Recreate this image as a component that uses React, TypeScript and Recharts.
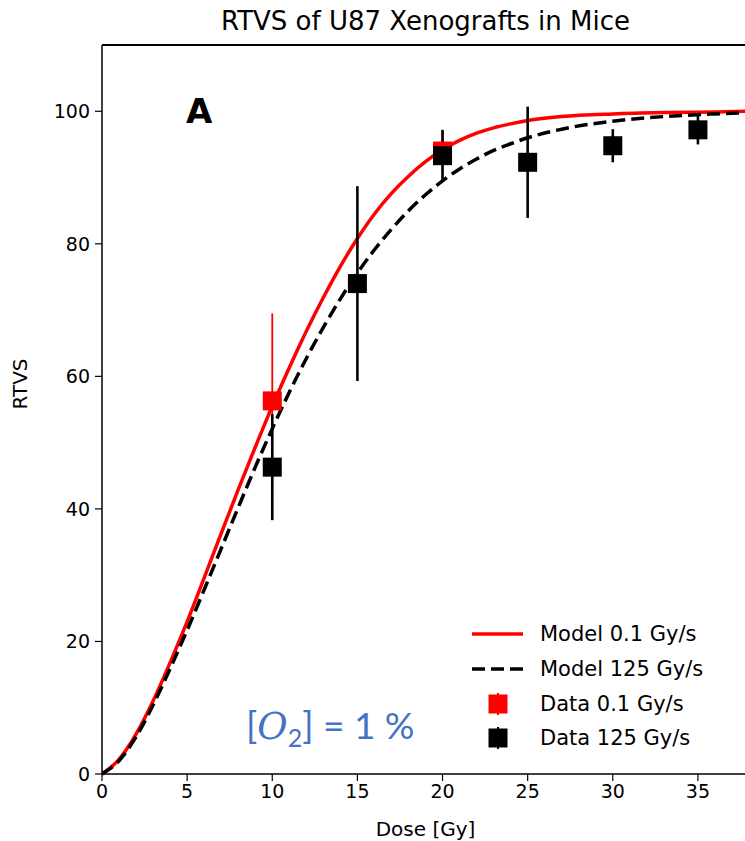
import { ComposedChart, Line, Scatter, ErrorBar, XAxis, YAxis, ReferenceLine } from 'recharts'

const modelDose = [0, 1, 2, 3, 4, 5, 6, 7, 8, 9, 10, 11, 12, 13, 14, 15, 16, 17, 18, 19, 20, 21, 22, 23, 24, 25, 27, 30, 33, 36, 38]
const modelConv = [0, 2.2, 6, 11, 16.8, 23, 29.6, 36.3, 42.9, 49.3, 55.5, 61.3, 66.8, 71.9, 76.6, 80.8, 84.5, 87.6, 90.2, 92.4, 94.2, 95.6, 96.7, 97.5, 98.1, 98.6, 99.2, 99.6, 99.8, 99.9, 100]
const modelFlash = [0, 2, 5.6, 10.4, 15.9, 21.7, 27.8, 34, 40.2, 46.3, 52.1, 57.6, 62.7, 67.4, 71.7, 75.6, 79.1, 82.2, 85, 87.4, 89.5, 91.3, 92.8, 94.1, 95.1, 96, 97.3, 98.5, 99.2, 99.6, 99.8]

const convDose = [10, 20]
const convRtvs = [56.3, 94]
const convErr = [13.2, 3]

const flashDose = [10, 15, 20, 25, 30, 35]
const flashRtvs = [46.3, 74, 93.3, 92.3, 94.8, 97.2]
const flashErr = [8, 14.7, 3.9, 8.4, 2.5, 2.2]

const xTicks = [0, 5, 10, 15, 20, 25, 30, 35]
const yTicks = [0, 20, 40, 60, 80, 100]

const redLine = modelDose.map((x, i) => ({ x, y: modelConv[i] }))
const blackLine = modelDose.map((x, i) => ({ x, y: modelFlash[i] }))
const redPts = convDose.map((x, i) => ({ x, y: convRtvs[i], err: convErr[i] }))
const blackPts = flashDose.map((x, i) => ({ x, y: flashRtvs[i], err: flashErr[i] }))

const FONT = '"DejaVu Sans", sans-serif'
const SQ = 19

const square = (fill: string) => (p: any) => (
  <rect x={p.cx - SQ / 2} y={p.cy - SQ / 2} width={SQ} height={SQ} fill={fill} />
)

const legendItems = [
  { label: 'Model 0.1 Gy/s', kind: 'line', color: '#ff0000' },
  { label: 'Model 125 Gy/s', kind: 'dash', color: '#000000' },
  { label: 'Data 0.1 Gy/s', kind: 'square', color: '#ff0000' },
  { label: 'Data 125 Gy/s', kind: 'square', color: '#000000' },
]

// legend drawn by hand so it does not eat plot space
function LegendBox() {
  return (
    <div style={{ position: 'absolute', left: 470, top: 617, fontFamily: FONT, fontSize: 21, color: '#000' }}>
      {legendItems.map((it) => (
        <div key={it.label} style={{ display: 'flex', alignItems: 'center', height: 34.7 }}>
          <svg width={70} height={30}>
            {it.kind === 'line' && <line x1={2} x2={53} y1={15} y2={15} stroke={it.color} strokeWidth={3.5} />}
            {it.kind === 'dash' && (
              <line x1={2} x2={53} y1={15} y2={15} stroke={it.color} strokeWidth={3.5} strokeDasharray="13 6" />
            )}
            {it.kind === 'square' && (
              <g>
                <line x1={28} x2={28} y1={4} y2={26} stroke={it.color} strokeWidth={2} />
                <rect x={28 - 9.5} y={15 - 9.5} width={19} height={19} fill={it.color} />
              </g>
            )}
          </svg>
          <span>{it.label}</span>
        </div>
      ))}
    </div>
  )
}

export default function App() {
  return (
    <div style={{ position: 'absolute', left: 0, top: 0, width: 745, height: 841, overflow: 'hidden', background: '#fff' }}>
      <div
        style={{
          position: 'absolute', left: 0, width: 851, top: 6, textAlign: 'center',
          fontFamily: FONT, fontSize: 26, color: '#000',
        }}
      >
        RTVS of U87 Xenografts in Mice
      </div>
      <ComposedChart width={770} height={841} margin={{ top: 45, right: 21, left: 0, bottom: 0 }}>
        <XAxis
          type="number"
          dataKey="x"
          domain={[0, 38]}
          ticks={xTicks}
          allowDataOverflow
          height={67}
          tickSize={7}
          tickMargin={4}
          axisLine={{ stroke: '#000', strokeWidth: 1.5 }}
          tickLine={{ stroke: '#000', strokeWidth: 1.2 }}
          tick={{ fill: '#000', fontFamily: FONT, fontSize: 19 }}
          label={{ value: 'Dose [Gy]', position: 'insideBottom', offset: 5, fill: '#000', fontFamily: FONT, fontSize: 20 }}
        />
        <YAxis
          type="number"
          domain={[0, 110]}
          ticks={yTicks}
          width={102}
          tickSize={7}
          tickMargin={5}
          axisLine={{ stroke: '#000', strokeWidth: 1.5 }}
          tickLine={{ stroke: '#000', strokeWidth: 1.2 }}
          tick={{ fill: '#000', fontFamily: FONT, fontSize: 19 }}
          label={{ value: 'RTVS', angle: -90, position: 'insideLeft', offset: 20, fill: '#000', fontFamily: FONT, fontSize: 20 }}
        />
        <ReferenceLine y={110} stroke="#000" strokeWidth={2} ifOverflow="visible" />
        <Line data={redLine} dataKey="y" type="monotone" stroke="#ff0000" strokeWidth={3.5} dot={false} isAnimationActive={false} name="Model 0.1 Gy/s" />
        <Line data={blackLine} dataKey="y" type="monotone" stroke="#000" strokeWidth={3.5} strokeDasharray="13 6" dot={false} isAnimationActive={false} name="Model 125 Gy/s" />
        <Scatter data={redPts} dataKey="y" shape={square('#ff0000')} isAnimationActive={false} name="Data 0.1 Gy/s">
          <ErrorBar dataKey="err" direction="y" width={0} stroke="#ff0000" strokeWidth={1.8} />
        </Scatter>
        <Scatter data={blackPts} dataKey="y" shape={square('#000')} isAnimationActive={false} name="Data 125 Gy/s">
          <ErrorBar dataKey="err" direction="y" width={0} stroke="#000" strokeWidth={2.6} />
        </Scatter>
      </ComposedChart>
      <LegendBox />
      <div style={{ position: 'absolute', left: 186, top: 91, fontFamily: FONT, fontWeight: 'bold', fontSize: 34, color: '#000' }}>
        A
      </div>
      <div style={{ position: 'absolute', left: 246, top: 702, fontFamily: 'Lato, sans-serif', fontSize: 37, color: '#4472c4', whiteSpace: 'nowrap' }}>
        [<i style={{ fontFamily: '"DejaVu Serif", serif' }}>O</i>
        <sub style={{ fontSize: 25 }}>2</sub>] = 1 %
      </div>
    </div>
  )
}
